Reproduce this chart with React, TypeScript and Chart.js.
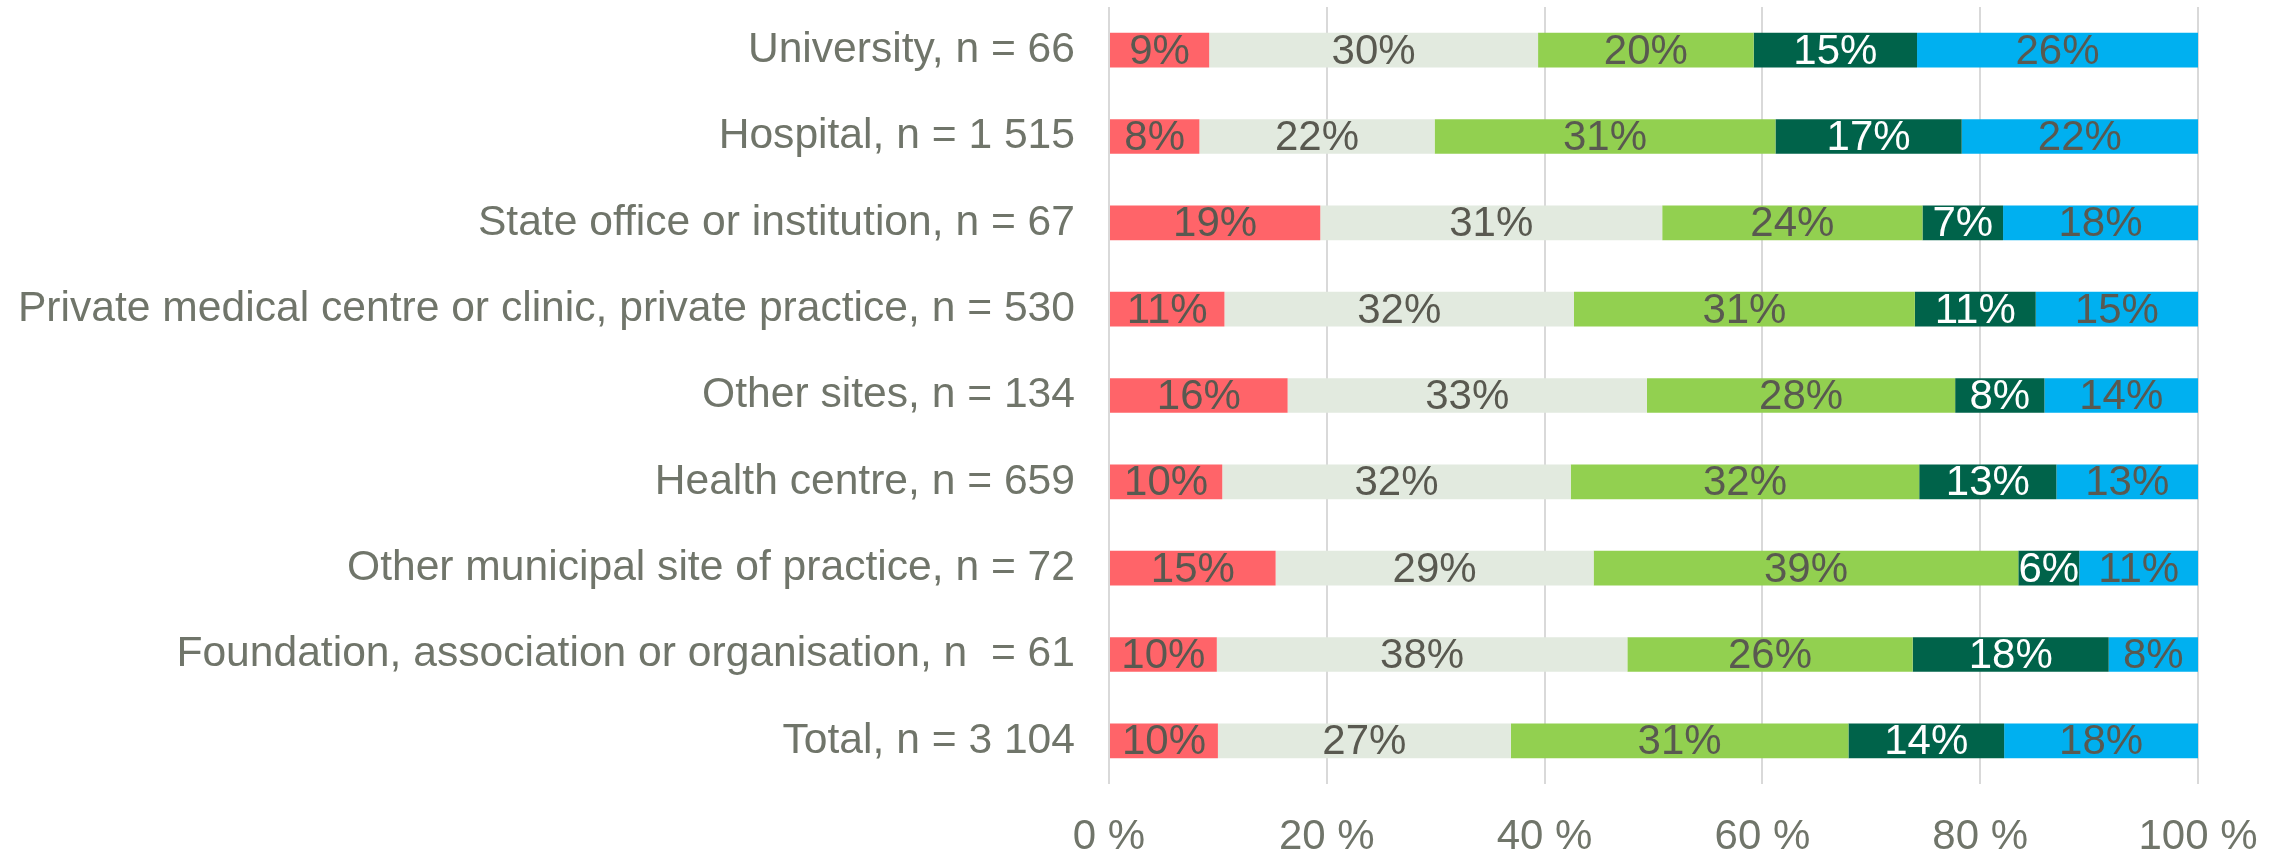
import React, { useEffect, useRef } from "react";
import { Chart, registerables } from "chart.js";

Chart.register(...registerables);

const categories = [
  "University, n = 66",
  "Hospital, n = 1 515",
  "State office or institution, n = 67",
  "Private medical centre or clinic, private practice, n = 530",
  "Other sites, n = 134",
  "Health centre, n = 659",
  "Other municipal site of practice, n = 72",
  "Foundation, association or organisation, n  = 61",
  "Total, n = 3 104",
];

const seriesNames = ["Response 1", "Response 2", "Response 3", "Response 4", "Response 5"];

const seriesRed = [9.2, 8.3, 19.4, 10.6, 16.4, 10.4, 15.3, 9.9, 10.0];
const seriesLight = [30.2, 21.6, 31.4, 32.1, 33.0, 32.0, 29.2, 37.7, 26.9];
const seriesGreen = [19.8, 31.3, 23.9, 31.3, 28.3, 32.0, 39.0, 26.2, 31.0];
const seriesDark = [15.0, 17.1, 7.4, 11.1, 8.2, 12.6, 5.6, 18.0, 14.3];
const seriesBlue = [25.8, 21.7, 17.9, 14.9, 14.1, 13.0, 10.9, 8.2, 17.8];

const xTicks = [0, 20, 40, 60, 80, 100];

const colors = ["#FF6469", "#E2EADF", "#92D050", "#00634A", "#00B0F0"];
const labelColors = ["#595950", "#595950", "#595950", "#FFFFFF", "#595950"];

const FONT = "'Liberation Sans', Arial, sans-serif";
const AXIS_COLOR = "#70756A";

const dataLabelPlugin = {
  id: "segmentLabels",
  afterDatasetsDraw(chart: any) {
    const ctx = chart.ctx;
    ctx.save();
    ctx.font = `42px ${FONT}`;
    ctx.textAlign = "center";
    ctx.textBaseline = "middle";
    chart.data.datasets.forEach((ds: any, di: number) => {
      const meta = chart.getDatasetMeta(di);
      meta.data.forEach((el: any, i: number) => {
        const v = ds.data[i];
        const cx = (el.x + el.base) / 2;
        ctx.fillStyle = labelColors[di];
        ctx.fillText(Math.round(v) + "%", cx, el.y + 2);
      });
    });
    ctx.restore();
  },
};

export default function App() {
  const ref = useRef<HTMLCanvasElement>(null);

  useEffect(() => {
    const series = [seriesRed, seriesLight, seriesGreen, seriesDark, seriesBlue];
    const chart = new Chart(ref.current!, {
      type: "bar",
      data: {
        labels: categories,
        datasets: series.map((d, i) => ({
          label: seriesNames[i],
          data: d,
          backgroundColor: colors[i],
          borderWidth: 0,
          barPercentage: 0.402,
          categoryPercentage: 1,
        })),
      },
      options: {
        indexAxis: "y",
        responsive: false,
        animation: false,
        devicePixelRatio: 1,
        layout: { padding: { top: 7, right: 89, left: 0, bottom: 0 } },
        plugins: {
          legend: { display: false },
          tooltip: { enabled: false },
          title: { display: false },
        },
        scales: {
          x: {
            stacked: true,
            min: 0,
            max: 100,
            afterBuildTicks: (scale: any) => {
              scale.ticks = xTicks.map((v) => ({ value: v }));
            },
            afterFit: (scale: any) => {
              scale.height = 74;
              scale.paddingLeft = 0;
              scale.paddingRight = 0;
            },
            grid: { color: "#D9D9D9", lineWidth: 2, drawTicks: false },
            border: { display: false },
            ticks: {
              padding: 28,
              color: AXIS_COLOR,
              font: { family: FONT, size: 42 },
              callback: (v: any) => v + " %",
              maxRotation: 0,
            },
          },
          y: {
            stacked: true,
            afterFit: (scale: any) => {
              scale.width = 1109;
              scale.paddingTop = 0;
              scale.paddingBottom = 0;
            },
            grid: { display: false, drawTicks: false },
            border: { display: false },
            ticks: {
              padding: 34,
              color: AXIS_COLOR,
              font: { family: FONT, size: 42.6 },
              autoSkip: false,
            },
          },
        },
      },
      plugins: [dataLabelPlugin],
    } as any);
    return () => chart.destroy();
  }, []);

  return (
    <div style={{ position: "absolute", left: 0, top: 0, width: 2287, height: 858, background: "#fff" }}>
      <canvas ref={ref} width={2287} height={858} style={{ display: "block" }} />
    </div>
  );
}
